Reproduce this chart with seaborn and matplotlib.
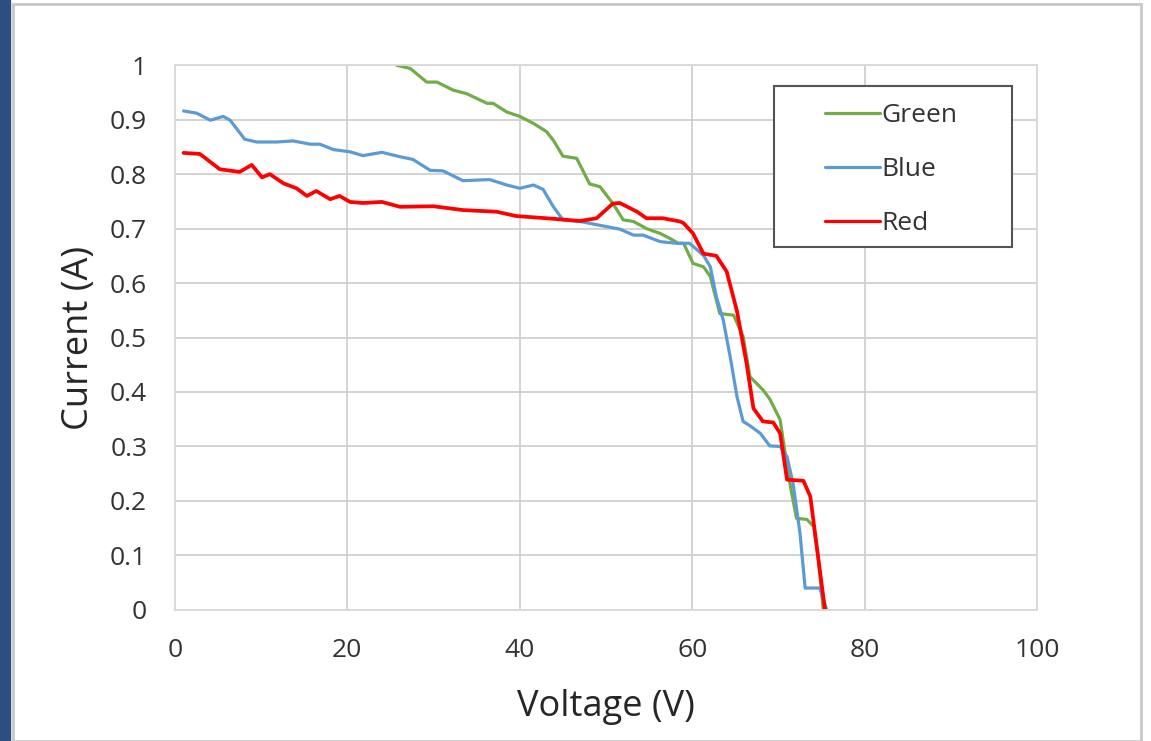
import numpy as np
import pandas as pd
import seaborn as sns
import matplotlib.pyplot as plt
from matplotlib.patches import Rectangle

# values
green_v = [25.7, 27.3, 29.2, 30.4, 32.3, 33.8, 36.2, 36.9, 38.5, 40.0, 41.6, 43.1, 43.9, 45.0,
           46.6, 48.1, 49.3, 50.8, 52.0, 53.2, 54.7, 56.3, 57.4, 58.4, 59.0, 60.1, 61.3, 62.1,
           63.2, 64.8, 65.9, 66.7, 68.2, 69.0, 70.2, 70.6, 71.4, 72.1, 73.3, 74.1, 74.6, 75.2]
green_i = [1.0, 0.994, 0.969, 0.969, 0.954, 0.948, 0.930, 0.930, 0.914, 0.906, 0.893, 0.878, 0.862, 0.833,
           0.829, 0.782, 0.777, 0.746, 0.716, 0.713, 0.700, 0.691, 0.682, 0.673, 0.673, 0.636, 0.630, 0.612,
           0.544, 0.541, 0.502, 0.428, 0.404, 0.387, 0.349, 0.306, 0.226, 0.168, 0.166, 0.153, 0.098, 0.0]

blue_v = [1.0, 2.5, 4.1, 5.6, 6.4, 8.1, 9.5, 11.8, 13.7, 15.7, 16.8, 18.4, 20.3, 21.8, 24.0,
          26.1, 27.6, 29.6, 31.1, 33.4, 36.5, 38.5, 40.0, 41.6, 42.7, 43.9, 45.0, 47.0, 49.3,
          51.6, 53.2, 54.3, 56.3, 58.2, 59.7, 61.3, 62.1, 62.8, 63.6, 64.4, 65.2, 65.9, 66.7,
          67.9, 69.0, 70.2, 71.0, 71.7, 72.5, 73.1, 74.8, 75.6]
blue_i = [0.916, 0.912, 0.899, 0.906, 0.899, 0.864, 0.859, 0.859, 0.861, 0.855, 0.855, 0.845, 0.841, 0.834, 0.840,
          0.832, 0.827, 0.807, 0.806, 0.788, 0.790, 0.780, 0.774, 0.780, 0.772, 0.740, 0.716, 0.713, 0.706,
          0.699, 0.688, 0.688, 0.676, 0.673, 0.673, 0.651, 0.630, 0.575, 0.532, 0.465, 0.391, 0.346, 0.338,
          0.324, 0.301, 0.300, 0.281, 0.232, 0.141, 0.040, 0.040, 0.0]

red_v = [1.0, 2.9, 5.2, 7.5, 8.9, 10.1, 11.0, 12.6, 14.1, 15.3, 16.4, 18.0, 19.1, 20.3, 21.8, 24.0,
         26.1, 30.0, 33.4, 37.3, 39.6, 43.1, 47.0, 48.9, 50.8, 51.6, 53.6, 54.7, 56.6, 58.6,
         59.0, 60.1, 61.3, 62.8, 64.0, 65.2, 66.3, 67.1, 68.2, 69.4, 70.2, 71.0, 72.9, 73.7, 74.4, 75.4]
red_i = [0.839, 0.837, 0.809, 0.804, 0.817, 0.794, 0.800, 0.783, 0.774, 0.760, 0.769, 0.754, 0.760, 0.749, 0.747, 0.749,
         0.740, 0.741, 0.734, 0.731, 0.723, 0.719, 0.714, 0.719, 0.746, 0.747, 0.731, 0.719, 0.719, 0.713,
         0.710, 0.691, 0.654, 0.650, 0.621, 0.548, 0.453, 0.370, 0.346, 0.344, 0.324, 0.239, 0.237, 0.208, 0.122, 0.0]

series = ["Green", "Blue", "Red"]
colors = ["#70AD47", "#5B9BD5", "#FF0000"]

df = pd.concat([
    pd.DataFrame({"Voltage": green_v, "Current": green_i, "Panel": "Green"}),
    pd.DataFrame({"Voltage": blue_v, "Current": blue_i, "Panel": "Blue"}),
    pd.DataFrame({"Voltage": red_v, "Current": red_i, "Panel": "Red"}),
])

sns.set_style("white")
plt.rcParams['font.family'] = ['Open Sans', 'DejaVu Sans']

fig = plt.figure(figsize=(11.51, 7.41), dpi=100)
# screenshot frame: dark strip on the left, grey border
fig.patches.append(Rectangle((0, 0), 0.009, 1, transform=fig.transFigure, color="#2b4f80", zorder=0))
fig.patches.append(Rectangle((0.011, 0.0), 0.98, 0.995, transform=fig.transFigure,
                             fill=False, edgecolor="#c8c8c8", linewidth=2, zorder=0))

ax = fig.add_axes([0.152, 0.177, 0.749, 0.735])
sns.lineplot(data=df, x="Voltage", y="Current", hue="Panel", hue_order=series,
             palette=colors, sort=False, estimator=None, linewidth=2.3, ax=ax)
ax.lines[2].set_linewidth(2.7)

ax.set_xlim(0, 100)
ax.set_ylim(0, 1)
ax.set_xticks(range(0, 101, 20))
ax.set_yticks(np.arange(0, 1.01, 0.1))
ax.set_yticklabels(["0", "0.1", "0.2", "0.3", "0.4", "0.5", "0.6", "0.7", "0.8", "0.9", "1"])
ax.tick_params(axis="both", length=0, labelsize=19, colors="#333333", pad=20)
ax.grid(True, color="#d0d0d0", linewidth=1.3)
ax.set_axisbelow(True)
for s in ax.spines.values():
    s.set_color("#d9d9d9")
    s.set_linewidth(1.3)

ax.set_xlabel("Voltage (V)", fontsize=26, color="#262626")
ax.set_ylabel("Current (A)", fontsize=26, color="#262626")
ax.xaxis.set_label_coords(0.5, -0.145)
ax.yaxis.set_label_coords(-0.09, 0.5)

# legend box drawn by hand so the padding matches the picture
ax.add_patch(Rectangle((0.695, 0.667), 0.276, 0.294, transform=ax.transAxes,
                       facecolor="white", edgecolor="#555555", linewidth=1.5, zorder=4))
leg = ax.legend(loc="upper left", bbox_to_anchor=(0.754, 0.931), borderaxespad=0,
                fontsize=19, frameon=False, handlelength=2.1, borderpad=0,
                handletextpad=0.05, labelspacing=1.1)
leg.set_zorder(5)
for t in leg.get_texts():
    t.set_color("#333333")

fig.savefig("out.png", dpi=100)
